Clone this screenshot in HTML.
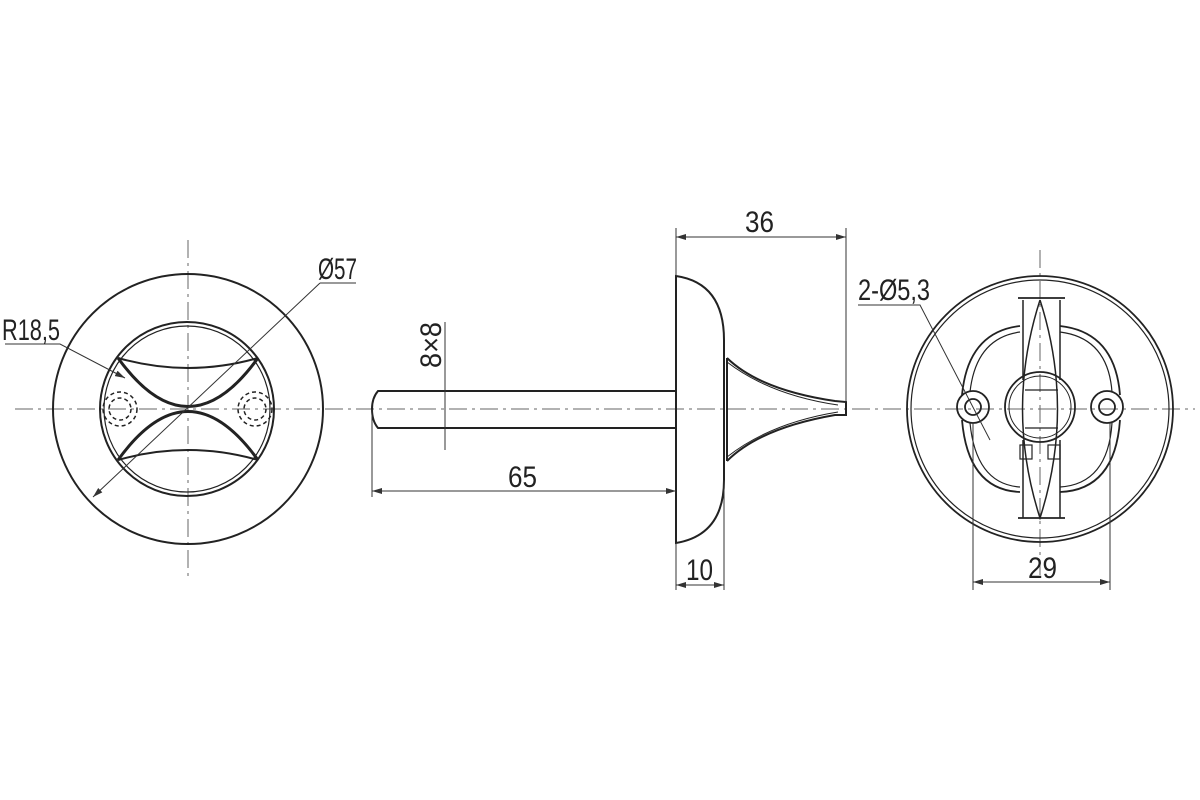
<!DOCTYPE html>
<html><head><meta charset="utf-8"><style>
html,body{margin:0;padding:0;background:#fff}
svg{display:block}
text{font-family:"Liberation Sans",sans-serif;font-size:30px;fill:#222}
</style></head><body>
<svg width="1200" height="800" viewBox="0 0 1200 800" xmlns="http://www.w3.org/2000/svg">
<defs>
<marker id="a" viewBox="0 0 10 6" refX="10" refY="3" markerWidth="10" markerHeight="6" orient="auto-start-reverse" markerUnits="userSpaceOnUse"><path d="M0,0L10,3L0,6z" fill="#333"/></marker>
</defs>
<g fill="none" stroke="#666" stroke-width="1" stroke-dasharray="18,5,3,5">
<line x1="15" y1="409" x2="1195" y2="409"/>
<line x1="188" y1="240" x2="188" y2="578"/>
<line x1="1040" y1="250" x2="1040" y2="575"/>
</g>
<!-- Left view -->
<g fill="none" stroke="#222" stroke-width="2">
<circle cx="188" cy="409" r="135"/>
<circle cx="187" cy="409" r="87"/>
<circle cx="187" cy="409" r="83" stroke-width="1.2"/>
<path d="M118,358 Q188,455 258,358" stroke-width="3"/>
<path d="M118,358 Q188,378 258,358"/>
<path d="M118,460 Q188,363 258,460" stroke-width="3"/>
<path d="M118,460 Q188,440 258,460"/>
</g>
<g fill="none" stroke="#222" stroke-width="1.5" stroke-dasharray="4,3">
<circle cx="120" cy="409" r="17"/><circle cx="120" cy="409" r="11"/>
<circle cx="255" cy="409" r="17"/><circle cx="255" cy="409" r="11"/>
</g>
<g fill="none" stroke="#333" stroke-width="1">
<line x1="93" y1="497" x2="320" y2="283" marker-start="url(#a)"/>
<line x1="320" y1="283" x2="356" y2="283"/>
<polyline points="5,344 60,344 125,378" marker-end="url(#a)"/>
</g>
<text x="318" y="279" textLength="39" lengthAdjust="spacingAndGlyphs">Ø57</text>
<text x="2" y="340" textLength="58" lengthAdjust="spacingAndGlyphs">R18,5</text>
<!-- Middle view -->
<g fill="none" stroke="#222" stroke-width="2">
<path d="M676,276 L676,543 Q724,535 724,480 L724,340 Q724,283 676,276Z"/>
<path d="M676,391 L378,391 Q372,398 372,409 Q372,421 378,428 L676,428"/>
<path d="M727,358 L727,461 M727,358 Q760,390 835,401 L846,402 L846,415 L835,415 Q760,428 727,461"/>
<path d="M727,362 Q770,395 838,405 M727,457 Q770,423 838,412" stroke-width="1"/>
</g>
<g fill="none" stroke="#333" stroke-width="1">
<line x1="676" y1="228" x2="676" y2="276"/><line x1="846" y1="228" x2="846" y2="402"/>
<line x1="676" y1="237" x2="846" y2="237" marker-start="url(#a)" marker-end="url(#a)"/>
<line x1="372" y1="409" x2="372" y2="497"/>
<line x1="372" y1="491" x2="676" y2="491" marker-start="url(#a)" marker-end="url(#a)"/>
<line x1="676" y1="543" x2="676" y2="590"/><line x1="724" y1="480" x2="724" y2="590"/>
<line x1="676" y1="585" x2="724" y2="585" marker-start="url(#a)" marker-end="url(#a)"/>
<line x1="445" y1="322" x2="445" y2="450"/>
</g>
<text x="745" y="232" textLength="29" lengthAdjust="spacingAndGlyphs">36</text>
<text x="508" y="487" textLength="29" lengthAdjust="spacingAndGlyphs">65</text>
<text x="686" y="580" textLength="27" lengthAdjust="spacingAndGlyphs">10</text>
<text transform="translate(441,368) rotate(-90)" textLength="46" lengthAdjust="spacingAndGlyphs">8×8</text>
<!-- Right view -->
<g fill="none" stroke="#222" stroke-width="1.8">
<circle cx="1040" cy="409" r="133"/>
<circle cx="1040" cy="409" r="129" stroke-width="1.2"/>
<path d="M1020,326 Q968,332 962,395 M962,420 Q968,490 1020,492 M1060,326 Q1115,332 1120,395 M1120,420 Q1115,490 1060,492"/>
<path d="M1020,332 Q976,338 970,392 M970,423 Q976,484 1020,487 M1060,332 Q1108,338 1112,392 M1112,423 Q1108,484 1060,487" stroke-width="1.2"/>
<circle cx="973" cy="407" r="16"/><circle cx="973" cy="407" r="8"/>
<circle cx="1107" cy="407" r="16"/><circle cx="1107" cy="407" r="8"/>
<circle cx="1040" cy="407" r="35"/><circle cx="1040" cy="407" r="31" stroke-width="1"/>
<path d="M1018,298 L1065,298 M1018,518 L1065,518"/>
<path d="M1040,300 Q1005,409 1040,518 Q1075,409 1040,300" stroke-width="1.5"/>
<path d="M1023,300 L1023,380 M1023,440 L1023,518 M1060,300 L1060,380 M1060,440 L1060,518" stroke-width="1.5"/>
<path d="M1025,390 L1058,390 M1025,428 L1058,428" stroke-width="1.2"/>
<rect x="1020" y="445" width="12" height="14" stroke-width="1.2"/>
<rect x="1048" y="445" width="12" height="14" stroke-width="1.2"/>
</g>
<g fill="none" stroke="#333" stroke-width="1">
<polyline points="858,305 920,305 990,440"/>
<line x1="973" y1="423" x2="973" y2="590"/><line x1="1110" y1="423" x2="1110" y2="590"/>
<line x1="973" y1="582" x2="1110" y2="582" marker-start="url(#a)" marker-end="url(#a)"/>
</g>
<text x="858" y="300" textLength="72" lengthAdjust="spacingAndGlyphs">2-Ø5,3</text>
<text x="1028" y="578" textLength="29" lengthAdjust="spacingAndGlyphs">29</text>
</svg>
</body></html>
